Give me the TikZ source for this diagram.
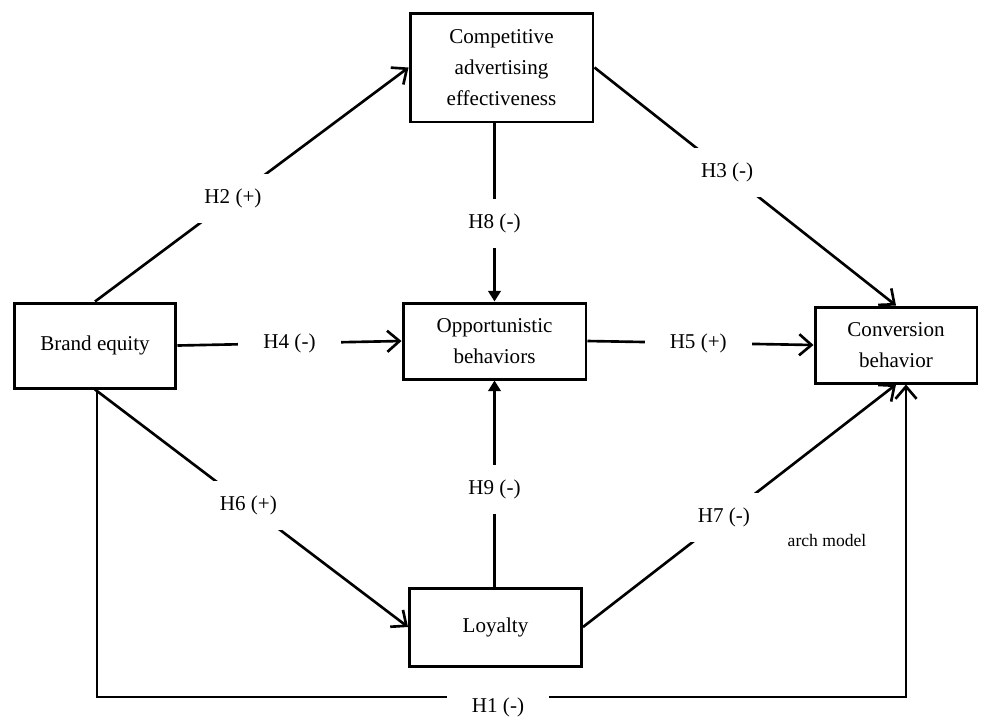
\documentclass[tikz,border=0pt]{standalone}
\usepackage{fontspec}
\setmainfont{Liberation Serif}
\usetikzlibrary{arrows.meta}
\tikzset{box/.style={draw,line width=1.7pt,align=center,font=\fontsize{12}{17.5}\selectfont}}
\tikzset{arr/.style={line width=1.5pt,-{Straight Barb[length=7pt,width=12pt,line width=1.5pt]}}}
\tikzset{arrt/.style={line width=1.5pt,-{Triangle[length=6pt,width=7pt]}}}
\tikzset{hyp/.style={fill=white,inner xsep=0.5cm,inner ysep=0.3cm,font=\fontsize{12}{14}\selectfont}}
\begin{document}
\begin{tikzpicture}[x=0.02cm,y=-0.02cm]
\useasboundingbox (0,0) rectangle (982,718);
\node[box,minimum width=3.66cm,minimum height=2.18cm] (cae) at (501.5,67.5) {Competitive\\advertising\\effectiveness};
\node[box,minimum width=3.24cm,minimum height=1.7cm] (be) at (95,345.5) {Brand equity};
\node[box,minimum width=3.66cm,minimum height=1.52cm] (ob) at (494.5,341) {Opportunistic\\behaviors};
\node[box,minimum width=3.24cm,minimum height=1.52cm] (cb) at (896,345) {Conversion\\behavior};
\node[box,minimum width=3.44cm,minimum height=1.56cm] (lo) at (495.5,627) {Loyalty};
\coordinate (h1) at (498,697);
\draw[arr] (be.north) -- node[hyp,pos=0.44] {H2 (+)} (cae.west);
\draw[arr] (cae.east) -- node[hyp,pos=0.44] {H3 (-)} (cb.north);
\draw[arr] (be.east) -- node[hyp,pos=0.5] {H4 (-)} (ob.west);
\draw[arr] (ob.east) -- node[hyp,pos=0.49] {H5 (+)} (cb.west);
\draw[arrt] (cae.south -| ob.north) -- node[hyp,pos=0.56] {H8 (-)} (ob.north);
\draw[arrt] (lo.north -| ob.south) -- node[hyp,pos=0.47] {H9 (-)} (ob.south);
\draw[arr] (be.south) -- node[hyp,pos=0.49] {H6 (+)} (lo.west);
\draw[arr] (lo.east) -- node[hyp,pos=0.45] {H7 (-)} (cb.south);
\draw[arr] ([xshift=0.04cm]be.south) |- (h1) -| ([xshift=0.2cm]cb.south);
\node[hyp] (h1l) at (498,707) {H1 (-)};
\node[font=\fontsize{10}{12}\selectfont] (am) at (827,540) {arch model};
\end{tikzpicture}
\end{document}
